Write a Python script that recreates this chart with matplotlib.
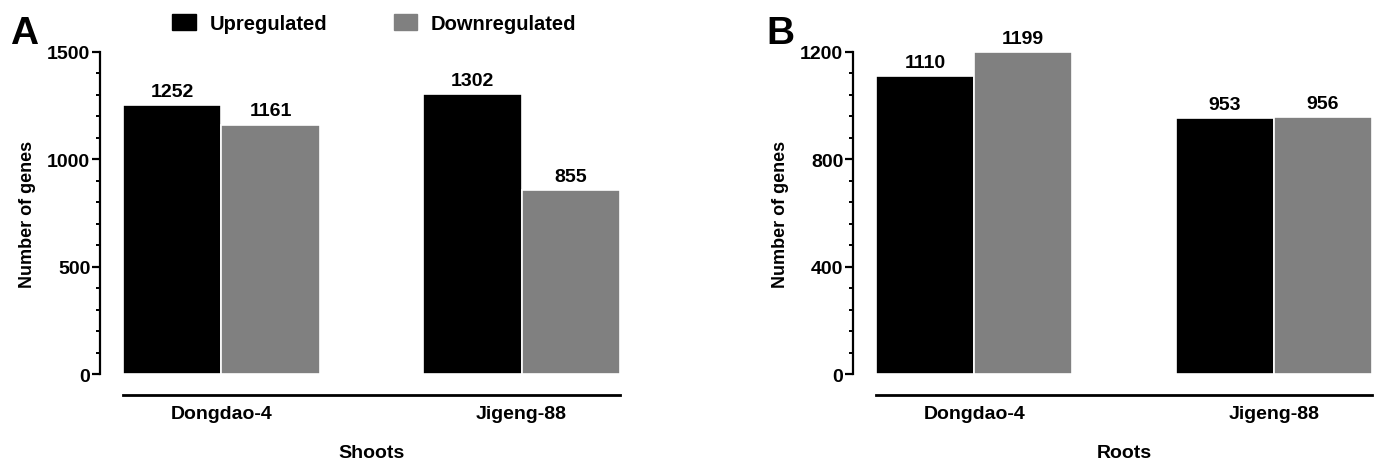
import numpy as np
import matplotlib
matplotlib.use("Agg")
import matplotlib.pyplot as plt
from matplotlib.ticker import MultipleLocator
from matplotlib.patches import Patch

plt.rcParams['font.family'] = ['Liberation Sans', 'DejaVu Sans']
plt.rcParams['font.weight'] = 'bold'

cultivars = ["Dongdao-4", "Jigeng-88"]
series = ["Upregulated", "Downregulated"]
colors = ["#000000", "#808080"]

shoots_up = [1252, 1302]
shoots_down = [1161, 855]
roots_up = [1110, 953]
roots_down = [1199, 956]

FS = 14


def draw_panel(ax, up, down, ymax, major, xlabel):
    centers = np.array([0.0, 3.05])
    w = 1.0
    for vals, off, col in [(up, -0.5, colors[0]), (down, 0.5, colors[1])]:
        bars = ax.bar(centers + off, vals, width=w, color=col,
                      edgecolor="white", linewidth=1.2)
        for b, v in zip(bars, vals):
            ax.annotate(str(v), (b.get_x() + b.get_width() / 2, v),
                        xytext=(0, 4), textcoords="offset points",
                        ha="center", va="bottom", fontsize=FS, fontweight="bold")
    ax.set_xlim(centers[0] - w, centers[-1] + w)
    ax.set_ylim(0, ymax)
    ax.yaxis.set_major_locator(MultipleLocator(major))
    ax.yaxis.set_minor_locator(MultipleLocator(major / 5))
    ax.spines["top"].set_visible(False)
    ax.spines["right"].set_visible(False)
    ax.spines["left"].set_position(("outward", 16.5))
    ax.spines["bottom"].set_position(("outward", 15))
    ax.spines["left"].set_linewidth(1.6)
    ax.spines["bottom"].set_linewidth(2.0)
    ax.set_xticks(centers)
    ax.set_xticklabels(cultivars, fontsize=FS, fontweight="bold")
    ax.tick_params(axis="x", length=0, pad=7)
    ax.tick_params(axis="y", which="major", length=6, width=1.6,
                   labelsize=FS, pad=1)
    ax.tick_params(axis="y", which="minor", length=3, width=1.4)
    for lab in ax.get_yticklabels():
        lab.set_fontweight("bold")
    ax.set_ylabel("Number of genes", fontsize=13, fontweight="bold", labelpad=8)
    ax.set_xlabel(xlabel, fontsize=FS, fontweight="bold", labelpad=16)


fig = plt.figure(figsize=(13.79, 4.64), dpi=100)
axA = fig.add_axes([0.0892, 0.1918, 0.3604, 0.694])
axB = fig.add_axes([0.6352, 0.1918, 0.3597, 0.694])

draw_panel(axA, shoots_up, shoots_down, 1500, 500, "Shoots")
draw_panel(axB, roots_up, roots_down, 1200, 400, "Roots")

fig.text(0.007, 0.965, "A", fontsize=28, fontweight="bold", va="top")
fig.text(0.556, 0.965, "B", fontsize=28, fontweight="bold", va="top")

handles = [Patch(facecolor=c, edgecolor=c) for c in colors]
fig.legend(handles, series, loc="center", bbox_to_anchor=(0.2716, 0.948),
           ncol=2, frameon=False, fontsize=14.5, handlelength=1.15,
           handleheight=0.85, columnspacing=3.3, handletextpad=0.7)

fig.savefig("out.png", dpi=100)
